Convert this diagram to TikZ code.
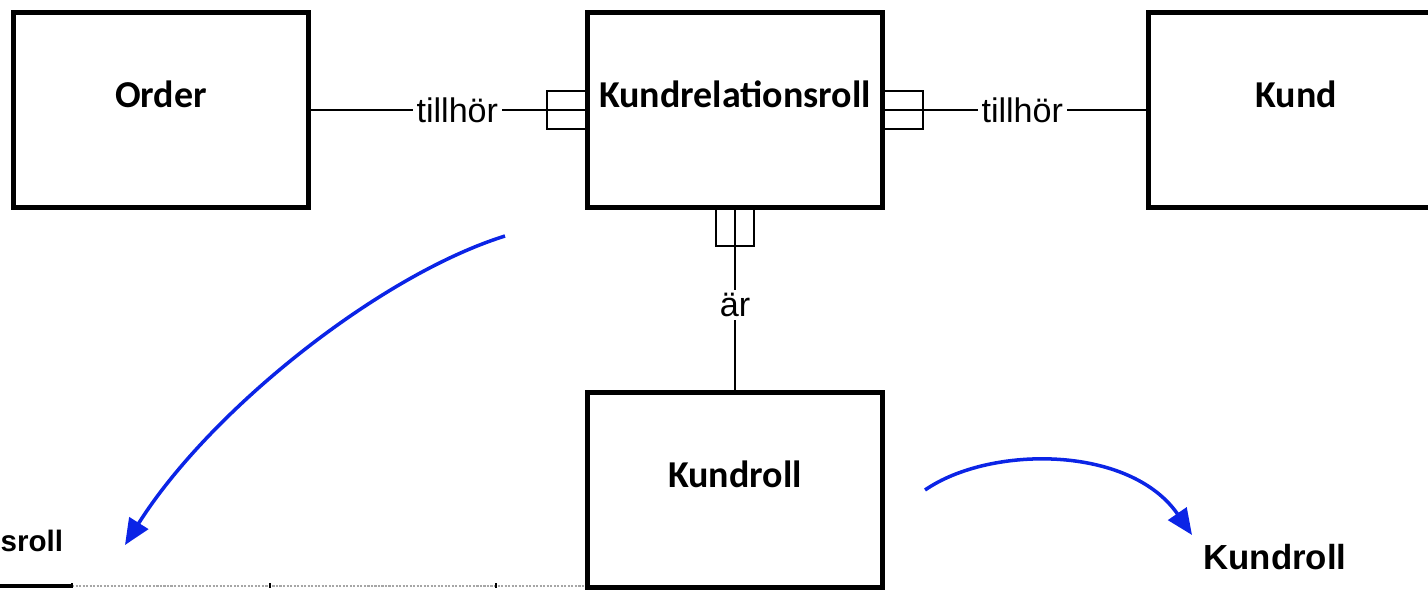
\documentclass[tikz,border=0pt]{standalone}
\usepackage{fontspec}
\setmainfont{Liberation Sans}
\newfontfamily\boxfont{Carlito}
\usetikzlibrary{arrows.meta,positioning}
\definecolor{cFlow}{HTML}{0B24E6}
\definecolor{cGrid}{HTML}{A6A6A6}
\tikzset{
  entity/.style = {rectangle, draw=black, line width=1.4pt, minimum width=2.95cm,
                   minimum height=1.95cm, inner sep=0pt, text height=0.3cm, text depth=0.36cm,
                   font=\boxfont\bfseries\fontsize{10.8}{12}\selectfont},
  rel/.style    = {draw=black, line width=0.6pt},
  rellab/.style = {fill=white, inner sep=1pt, font=\fontsize{9.7}{11}\selectfont},
  flow/.style   = {-{Triangle[length=0.26cm, width=0.22cm]}, draw=cFlow, line width=1pt},
  role/.style   = {font=\bfseries\fontsize{9.9}{11}\selectfont, inner sep=0pt},
}
\begin{document}
\begin{tikzpicture}[x=0.01cm, y=-0.01cm]
  \useasboundingbox (0,0) rectangle (1428,590);
  \clip (0,0) rectangle (1428,590);

  % entities
  \node[entity] (order) at (161,110) {Order};
  \node[entity] (krr) at (735,110) {Kundrelationsroll};
  \node[entity] (kund) at (1296,110) {Kund};
  \node[entity] (kr) at (735,490) {Kundroll};

  % relations
  \draw[rel] (order) -- node[rellab, pos=0.534]{tillhör} (krr);
  \draw[rel] (krr) -- node[rellab, pos=0.526]{tillhör} (kund);
  \draw[rel] (krr) -- node[rellab, pos=0.527]{är} (kr);

  % many-ends
  \draw[rel] (krr.west) ++(0,-19) -- ++(-38,0) -- ++(0,38) -- ++(38,0);
  \draw[rel] (krr.east) ++(0,-19) -- ++(38,0) -- ++(0,38) -- ++(-38,0);
  \draw[rel] (krr.south) ++(-19,0) -- ++(0,36) -- ++(38,0) -- ++(0,-36);

  % flows
  \coordinate (f1s) at (505,236);
  \coordinate (f1e) at (125,545);
  \coordinate (f2s) at (925,490);
  \coordinate (f2e) at (1192,535);
  \draw[flow] (f1s) .. controls (380,275) and (210,410) .. (f1e);
  \draw[flow] (f2s) .. controls (990,445) and (1130,445) .. (f2e);

  \node[role, anchor=west, font=\bfseries\fontsize{8.4}{10}\selectfont] (krrlab) at (0,541) {sroll};
  \node[role] (krlab) at (1275,557) {Kundroll};

  % bottom rule
  \draw[line width=0.9pt] (0,586) -- (72,586);
  \draw[cGrid, line width=0.6pt, dash pattern=on 0.6pt off 0.4pt] (72,586) -- (585,586);
  \foreach \x in {72,270,496} \draw[line width=0.5pt] (\x,583) -- (\x,588);
\end{tikzpicture}
\end{document}
